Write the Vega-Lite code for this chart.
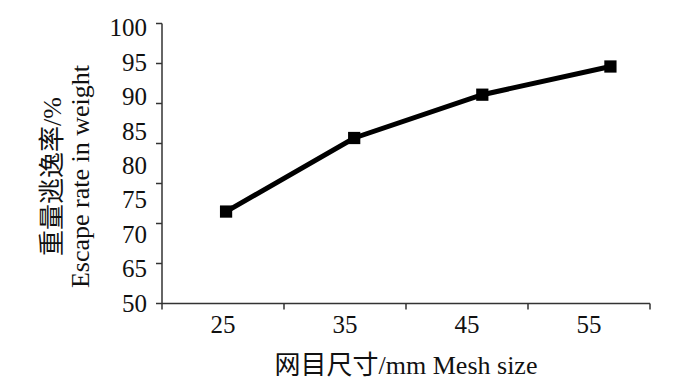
{
  "$schema": "https://vega.github.io/schema/vega-lite/v6.json",
  "width": 488,
  "height": 280,
  "autosize": {"type": "none"},
  "padding": {"left": 161.5, "top": 23, "right": 50.5, "bottom": 83},
  "background": "white",
  "data": {
    "values": [
      {"mesh": 25, "rate": 73.3},
      {"mesh": 35, "rate": 84.0},
      {"mesh": 45, "rate": 90.3},
      {"mesh": 55, "rate": 94.4}
    ]
  },
  "config": {
    "view": {"stroke": null},
    "axis": {
      "grid": false,
      "domainColor": "#333333",
      "tickColor": "#333333",
      "labelColor": "#111111",
      "titleColor": "#111111",
      "labelFont": "Liberation Serif",
      "titleFont": "Liberation Serif, Noto Sans CJK SC",
      "labelFontSize": 25,
      "titleFontSize": 26,
      "titleFontWeight": "normal",
      "domainWidth": 1.5,
      "tickWidth": 1.5
    }
  },
  "layer": [
    {
      "mark": {
        "type": "line",
        "color": "#000000",
        "strokeWidth": 5,
        "point": {"shape": "square", "size": 150, "filled": true, "color": "#000000", "opacity": 1}
      },
      "encoding": {
        "x": {
          "field": "mesh",
          "type": "quantitative",
          "scale": {"domain": [19.96, 58.05], "nice": false, "zero": false},
          "axis": null
        },
        "y": {
          "field": "rate",
          "type": "quantitative",
          "scale": {"domain": [60, 100.727], "nice": false, "zero": false},
          "axis": {
            "orient": "left",
            "values": [60, 65, 70, 75, 80, 85, 90, 95, 100],
            "labelExpr": "datum.value == 60 ? '50' : datum.label",
            "ticks": false,
            "domain": false,
            "labelPadding": 15,
            "labelOverlap": false,
            "labelFont": "Liberation Serif",
            "labelFontSize": 25,
            "title": ["重量逃逸率/%", "Escape rate in weight"],
            "titleFont": "Liberation Serif, Noto Sans CJK SC",
            "titleAngle": 270,
            "titleX": -109.5,
            "titleY": 153,
            "titleAlign": "center",
            "titleBaseline": "middle",
            "titleLineHeight": 28
          }
        }
      }
    },
    {
      "mark": {"type": "point", "opacity": 0, "clip": true},
      "encoding": {
        "x": {
          "field": "mesh",
          "type": "ordinal",
          "scale": {"type": "band", "paddingInner": 0, "paddingOuter": 0},
          "axis": {
            "orient": "bottom",
            "tickBand": "extent",
            "labelAngle": 0,
            "tickSize": 6,
            "labelPadding": 3,
            "labelFont": "Liberation Serif",
            "labelFontSize": 25,
            "title": "网目尺寸/mm Mesh size",
            "titleFont": "Liberation Serif, Noto Sans CJK SC",
            "titleX": 244,
            "titleY": 62,
            "titleAlign": "center",
            "titleBaseline": "middle"
          }
        },
        "y": {
          "field": "rate",
          "type": "quantitative",
          "scale": {"domain": [0, 7], "nice": false, "zero": false},
          "axis": {
            "orient": "left",
            "values": [0, 1, 2, 3, 4, 5, 6, 7],
            "labels": false,
            "tickSize": 6,
            "title": null
          }
        }
      }
    }
  ],
  "resolve": {
    "scale": {"x": "independent", "y": "independent"},
    "axis": {"x": "independent", "y": "independent"}
  }
}
